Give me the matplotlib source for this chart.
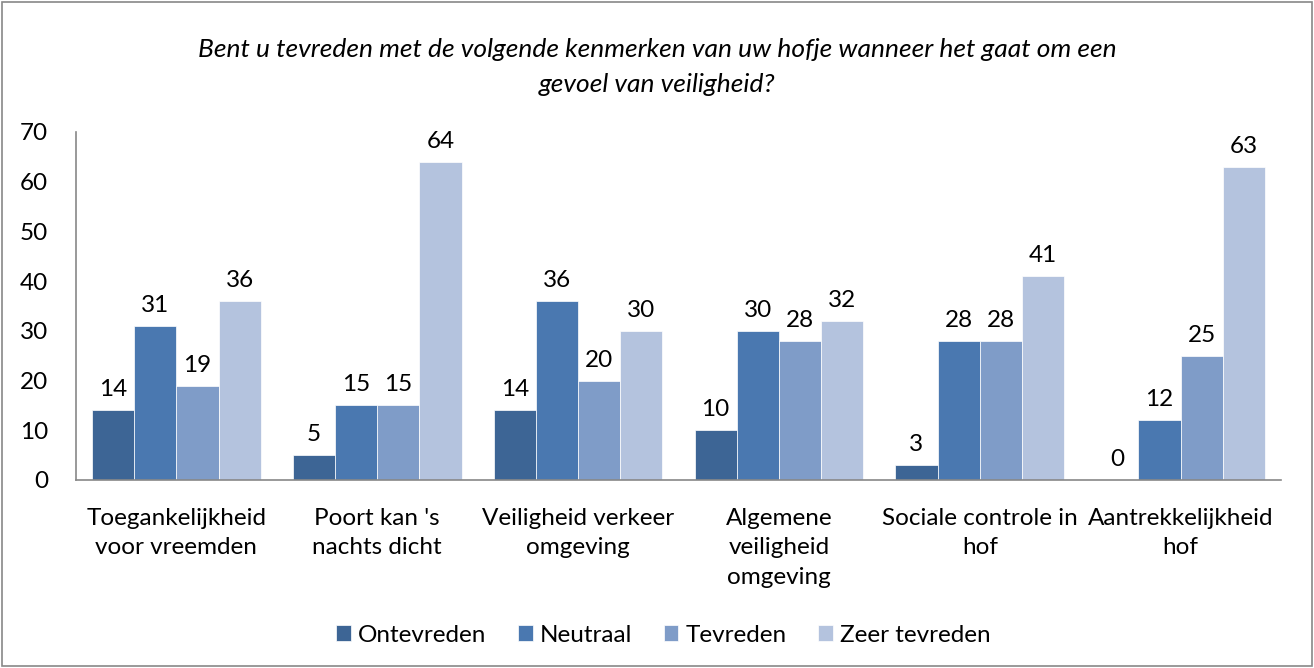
import numpy as np
import matplotlib
matplotlib.use("Agg")
import matplotlib.pyplot as plt
from matplotlib.patches import Rectangle

plt.rcParams['font.family'] = ['Lato', 'DejaVu Sans']

categories = ["Toegankelijkheid\nvoor vreemden", "Poort kan 's\nnachts dicht",
              "Veiligheid verkeer\nomgeving", "Algemene\nveiligheid\nomgeving",
              "Sociale controle in\nhof", "Aantrekkelijkheid\nhof"]
series = ["Ontevreden", "Neutraal", "Tevreden", "Zeer tevreden"]
ontevreden = [14, 5, 14, 10, 3, 0]
neutraal = [31, 15, 36, 30, 28, 12]
tevreden = [19, 15, 20, 28, 28, 25]
zeer_tevreden = [36, 64, 30, 32, 41, 63]
colors = ["#3d6595", "#4a78b0", "#7f9cc8", "#b4c3de"]

values = [ontevreden, neutraal, tevreden, zeer_tevreden]
fs = 17.5

fig = plt.figure(figsize=(13.14, 6.68), dpi=100)
ax = fig.add_axes([76/1314, 1 - 480/668, (1281-76)/1314, (480-132)/668])

x = np.arange(len(categories))
w = 0.21
for i, (name, vals) in enumerate(zip(series, values)):
    pos = x - 1.5*w + i*w
    bars = ax.bar(pos, vals, w, color=colors[i], label=name, edgecolor='white', linewidth=0.5)
    for p, v in zip(pos, vals):
        ax.text(p, v + 2.0, str(v), ha='center', va='bottom', fontsize=fs)

ax.set_xlim(-0.5, len(categories) - 0.5)
ax.set_ylim(0, 70)
ax.set_yticks(range(0, 71, 10))
ax.set_xticks(x)
ax.set_xticklabels(categories, fontsize=fs, va='top', linespacing=1.5)
ax.tick_params(axis='both', length=0, labelsize=fs)
ax.tick_params(axis='y', pad=20)
ax.tick_params(axis='x', pad=20)
for s in ['top', 'right']:
    ax.spines[s].set_visible(False)
for s in ['left', 'bottom']:
    ax.spines[s].set_color('#888888')
    ax.spines[s].set_linewidth(1.2)

fig.text(0.5, 1 - 67/668, "Bent u tevreden met de volgende kenmerken van uw hofje wanneer het gaat om een\ngevoel van veiligheid?",
         ha='center', va='center', fontsize=19, style='italic', linespacing=1.6)

fig.legend(loc='center', bbox_to_anchor=(0.505, 1 - 635/668), ncol=4, frameon=False,
           fontsize=fs, handlelength=0.6, handleheight=0.6, handletextpad=0.3, columnspacing=1.3)

fig.patches.append(Rectangle((2/1314, 2/668), 1 - 4/1314, 1 - 4/668, transform=fig.transFigure,
                             fill=False, edgecolor='#888888', linewidth=1.2))

fig.savefig("out.png", dpi=100)
